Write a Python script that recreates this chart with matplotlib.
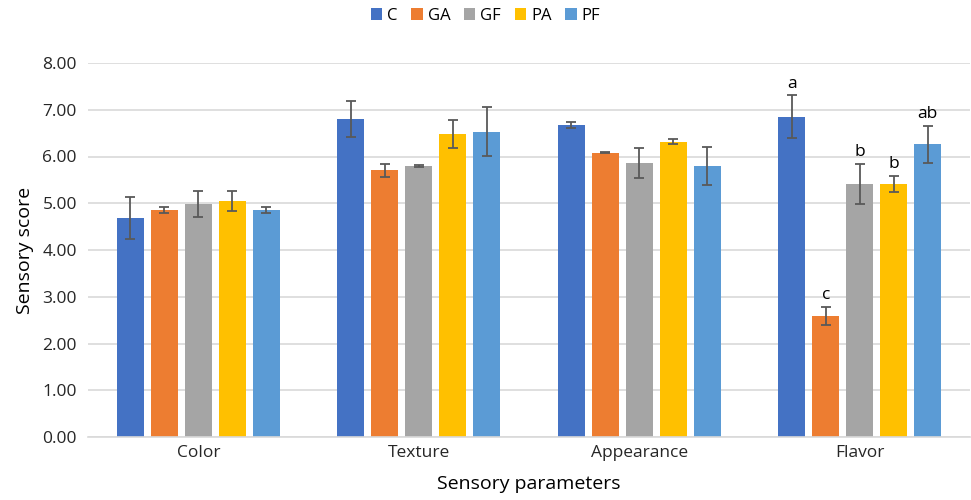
import matplotlib.pyplot as plt
import numpy as np

plt.rcParams['font.family'] = ['Open Sans', 'DejaVu Sans']

params = ["Color", "Texture", "Appearance", "Flavor"]
series = ["C", "GA", "GF", "PA", "PF"]
colors = ["#4472C4", "#ED7D31", "#A5A5A5", "#FFC000", "#5B9BD5"]

C = [4.68, 6.80, 6.67, 6.85]
GA = [4.86, 5.71, 6.08, 2.59]
GF = [4.98, 5.80, 5.87, 5.42]
PA = [5.05, 6.48, 6.32, 5.42]
PF = [4.86, 6.53, 5.80, 6.26]

C_err = [0.45, 0.39, 0.07, 0.46]
GA_err = [0.06, 0.14, 0.01, 0.19]
GF_err = [0.28, 0.02, 0.32, 0.43]
PA_err = [0.21, 0.30, 0.05, 0.17]
PF_err = [0.06, 0.52, 0.40, 0.39]

# significance letters for Flavor only
flavor_letters = ["a", "c", "b", "b", "ab"]

values = [C, GA, GF, PA, PF]
errors = [C_err, GA_err, GF_err, PA_err, PF_err]

fig = plt.figure(figsize=(9.71, 5), dpi=100)
ax = fig.add_axes([88 / 971, 0.126, 882 / 971, 0.748])

x = np.arange(len(params))
width = 0.1225
step = 0.154

for i, name in enumerate(series):
    pos = x + (i - 2) * step
    ax.bar(pos, values[i], width, color=colors[i], label=name, zorder=2,
           yerr=errors[i], capsize=3.6,
           error_kw=dict(ecolor="#595959", elinewidth=1.3, capthick=1.3))
    # letter above flavor error bar
    top = values[i][3] + errors[i][3]
    ax.text(pos[3], top + 0.08, flavor_letters[i], ha="center", va="bottom",
            fontsize=12.5, color="black")

ax.set_xlim(-0.5, 3.5)
ax.set_ylim(0, 8)
ax.set_yticks(np.arange(0, 8.01, 1))
ax.set_yticklabels([f"{v:.2f}" for v in np.arange(0, 8.01, 1)])
ax.set_xticks(x)
ax.set_xticklabels(params)
ax.tick_params(axis="both", length=0, labelsize=12.5, colors="#262626")
ax.tick_params(axis="y", pad=8)
ax.tick_params(axis="x", pad=6)
ax.yaxis.grid(True, color="#D9D9D9", linewidth=1.2, zorder=0)
ax.set_axisbelow(True)
for s in ["top", "right", "left"]:
    ax.spines[s].set_visible(False)
ax.spines["bottom"].set_color("#D9D9D9")
ax.spines["bottom"].set_linewidth(1.2)

ax.set_ylabel("Sensory score", fontsize=14, color="black", labelpad=6)
ax.set_xlabel("Sensory parameters", fontsize=14, color="black", labelpad=10)

fig.legend(loc="center", bbox_to_anchor=(0.5, 0.968), ncol=5, frameon=False,
           fontsize=12, handlelength=0.7, handleheight=0.7, handletextpad=0.3,
           columnspacing=0.8)

fig.savefig("out.png", dpi=100)
